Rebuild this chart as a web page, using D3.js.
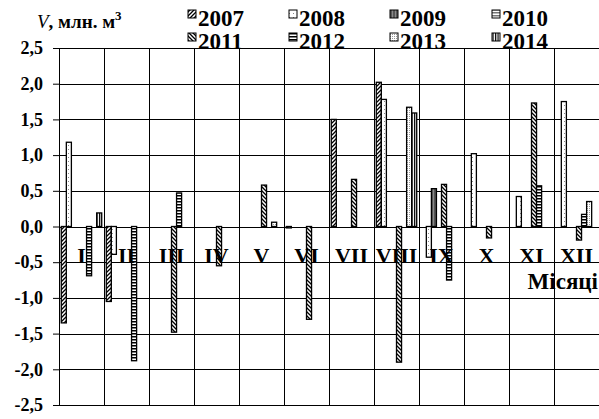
<!DOCTYPE html>
<html>
<head>
<meta charset="utf-8">
<script src="https://cdn.jsdelivr.net/npm/d3@7"></script>
<style>
  body { margin: 0; background: #fff; }
  text { font-family: "Liberation Serif", "Times New Roman", serif; font-weight: bold; fill: #000; }
</style>
</head>
<body>
<div id="chart"></div>
<script>
// data
var months = ["I", "II", "III", "IV", "V", "VI", "VII", "VIII", "IX", "X", "XI", "XII"];
var years = ["2007", "2008", "2009", "2010", "2011", "2012", "2013", "2014"];
var v2007 = [-1.35, -1.05, 0, 0, 0, -0.02, 1.50, 2.02, 0, 0, 0, 0];
var v2008 = [1.18, -0.39, 0, 0, 0, 0, 0, 1.78, -0.43, 1.02, 0.42, 1.75];
var v2009 = [0, 0, 0, 0, 0, 0, 0, 0, 0.53, 0, 0, 0];
var v2010 = [0, 0, 0, 0, 0, 0, 0, 0, 0, 0, 0, 0];
var v2011 = [0, 0, -1.48, -0.55, 0.58, -1.30, 0.66, -1.90, 0.59, -0.16, 1.73, -0.19];
var v2012 = [-0.69, -1.88, 0.47, 0, 0, 0, 0, 0, -0.75, 0, 0.57, 0.17];
var v2013 = [0, 0, 0, 0, 0.06, 0, 0, 1.67, 0, 0, 0, 0.35];
var v2014 = [0.19, 0, 0, 0, 0, 0, 0, 1.59, 0, 0, 0, 0];
var yTicks = [-2.5, -2, -1.5, -1, -0.5, 0, 0.5, 1, 1.5, 2, 2.5];

var series = [v2007, v2008, v2009, v2010, v2011, v2012, v2013, v2014];

var margin = {top: 48, right: 0, bottom: 14, left: 59},
    width = 599 - margin.left - margin.right,
    height = 419 - margin.top - margin.bottom;

var serif = "'Liberation Serif', 'Times New Roman', serif";

var root = d3.select("#chart").append("svg")
    .attr("width", 599)
    .attr("height", 419);

// fill patterns, one per year
var defs = root.append("defs");
function pat(id, w, h, draw, bg) {
  var p = defs.append("pattern")
      .attr("id", id)
      .attr("patternUnits", "userSpaceOnUse")
      .attr("width", w)
      .attr("height", h);
  p.append("rect").attr("width", w).attr("height", h).attr("fill", bg || "#fff");
  draw(p);
}
pat("p2007", 4, 4, function(p) {
  p.append("path").attr("d", "M-1,1 l2,-2 M0,4 l4,-4 M3,5 l2,-2").attr("stroke", "#000").attr("stroke-width", 1.3);
});
pat("p2008", 4, 4, function(p) {
  p.append("rect").attr("x", 1).attr("y", 1).attr("width", 1).attr("height", 1).attr("fill", "#888");
});
pat("p2009", 3, 3, function(p) {
  p.append("rect").attr("x", 0).attr("width", 2).attr("height", 3).attr("fill", "#555");
}, "#888");
pat("p2010", 3, 3, function(p) {
  p.append("rect").attr("y", 0).attr("width", 3).attr("height", 1.5).attr("fill", "#777");
});
pat("p2011", 4, 4, function(p) {
  p.append("path").attr("d", "M-1,3 l2,2 M0,0 l4,4 M3,-1 l2,2").attr("stroke", "#000").attr("stroke-width", 1.3);
});
pat("p2012", 3, 3, function(p) {
  p.append("rect").attr("y", 0).attr("width", 3).attr("height", 1.5).attr("fill", "#000");
});
pat("p2013", 2, 2, function(p) {
  p.append("rect").attr("width", 1).attr("height", 1).attr("fill", "#999");
});
pat("p2014", 2.5, 3, function(p) {
  p.append("rect").attr("width", 1.2).attr("height", 3).attr("fill", "#000");
});

// legend
var legend = root.append("g").attr("class", "legend");
var legX = [188, 289, 390, 492];
years.forEach(function(yr, i) {
  var lx = legX[i % 4], ly = i < 4 ? 10 : 33;
  legend.append("rect")
      .attr("x", lx).attr("y", ly)
      .attr("width", 8).attr("height", 8)
      .attr("fill", "url(#p" + yr + ")")
      .attr("stroke", "#000").attr("stroke-width", 1);
  legend.append("text")
      .attr("x", lx + 10).attr("y", ly + 16)
      .attr("font-family", serif)
      .style("font-size", "23px")
      .text(yr);
});

// axis title
var title = root.append("text")
    .attr("x", 37).attr("y", 28)
    .attr("font-family", serif)
    .style("font-size", "19px");
title.append("tspan").style("font-style", "italic").style("font-weight", "normal").text("V");
title.append("tspan").text(", млн. м");
title.append("tspan").attr("dy", -8).style("font-size", "13px").text("3");

var svg = root.append("g")
    .attr("transform", "translate(" + margin.left + "," + margin.top + ")");

svg.append("rect")
    .attr("width", width).attr("height", height)
    .attr("fill", "#fff");

var xScale = d3.scaleBand().domain(months).range([0, width]);
var xInner = d3.scaleBand().domain(years).range([0, xScale.bandwidth()]).paddingOuter(0.45);
var yScale = d3.scaleLinear().domain([-2.5, 2.5]).range([height, 0]);

// horizontal grid
svg.selectAll(".hgrid")
    .data(yTicks)
  .enter().append("line")
    .attr("class", "hgrid")
    .attr("x1", 0).attr("x2", width)
    .attr("y1", function(d) { return Math.round(yScale(d)) + 0.5; })
    .attr("y2", function(d) { return Math.round(yScale(d)) + 0.5; })
    .attr("stroke", "#000").attr("stroke-width", 1);

// vertical month separators
svg.selectAll(".vgrid")
    .data(months.concat(["end"]))
  .enter().append("line")
    .attr("class", "vgrid")
    .attr("x1", function(d, i) { return Math.round(i * xScale.step()) + 0.5; })
    .attr("x2", function(d, i) { return Math.round(i * xScale.step()) + 0.5; })
    .attr("y1", 0).attr("y2", height)
    .attr("stroke", "#000").attr("stroke-width", 1);

// y-axis
var yAxis = d3.axisLeft(yScale)
    .tickValues(yTicks)
    .tickSize(6)
    .tickPadding(10)
    .tickFormat(function(d) { return d3.format(".1f")(d).replace(".", ",").replace("−", "-"); });
var yg = svg.append("g").call(yAxis);
yg.attr("font-family", serif);
yg.select(".domain").remove();
yg.selectAll("text").style("font-size", "18px").attr("fill", "#000");
yg.selectAll("line").attr("stroke", "#000");

// bars
var bars = [];
series.forEach(function(vals, si) {
  vals.forEach(function(v, mi) {
    if (v !== 0) bars.push({year: years[si], month: months[mi], value: v});
  });
});

svg.selectAll(".bar")
    .data(bars)
  .enter().append("rect")
    .attr("class", "bar")
    .attr("x", function(d) { return xScale(d.month) + xInner(d.year); })
    .attr("width", xInner.bandwidth())
    .attr("y", function(d) { return yScale(Math.max(0, d.value)); })
    .attr("height", function(d) { return Math.max(1, Math.abs(yScale(d.value) - yScale(0))); })
    .attr("fill", function(d) { return "url(#p" + d.year + ")"; })
    .attr("stroke", "#000")
    .attr("stroke-width", 1.3);

// month labels
svg.selectAll(".mlabel")
    .data(months)
  .enter().append("text")
    .attr("class", "mlabel")
    .attr("font-family", serif)
    .attr("x", function(d) { return xScale(d) + xScale.bandwidth() / 2; })
    .attr("y", yScale(0) + 36)
    .attr("text-anchor", "middle")
    .style("font-size", "22px")
    .text(function(d) { return d; });

svg.append("text")
    .attr("font-family", serif)
    .attr("x", width - 1)
    .attr("y", yScale(0) + 62)
    .attr("text-anchor", "end")
    .style("font-size", "23px")
    .text("Місяці");
</script>
</body>
</html>
